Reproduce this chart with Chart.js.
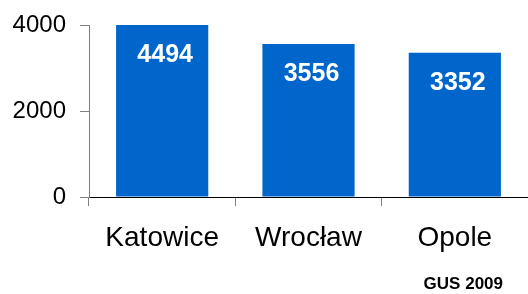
<!DOCTYPE html>
<html>
<head>
<meta charset="utf-8">
<script src="https://cdn.jsdelivr.net/npm/chart.js@4/dist/chart.umd.min.js"></script>
<style>
html,body{margin:0;padding:0;background:#fff;}
#wrap{width:528px;height:294px;position:relative;}
</style>
</head>
<body>
<div id="wrap"><canvas id="c" width="528" height="294"></canvas></div>
<script>
const categories = ["Katowice", "Wrocław", "Opole"];
const values = [4494, 3556, 3352];
const yTicks = [0, 2000, 4000];
const sourceNote = "GUS 2009";

const FONT = "'Liberation Sans', Arial, Helvetica, sans-serif";

const labelPlugin = {
  id: 'barLabels',
  afterDatasetsDraw(chart) {
    const ctx = chart.ctx;
    const meta = chart.getDatasetMeta(0);
    const area = chart.chartArea;
    ctx.save();
    ctx.fillStyle = '#ffffff';
    ctx.font = 'bold 25px ' + FONT;
    ctx.textAlign = 'center';
    ctx.textBaseline = 'middle';
    meta.data.forEach((el, i) => {
      const top = Math.max(el.y, area.top);
      ctx.fillText(String(values[i]), el.x + 3, top + 30);
    });
    ctx.restore();
  },
  afterDraw(chart) {
    const ctx = chart.ctx;
    ctx.save();
    ctx.fillStyle = '#000000';
    ctx.font = 'bold 17px ' + FONT;
    ctx.textAlign = 'right';
    ctx.textBaseline = 'alphabetic';
    ctx.fillText(sourceNote, 503, 289);
    ctx.restore();
  }
};

new Chart(document.getElementById('c'), {
  type: 'bar',
  data: {
    labels: categories,
    datasets: [{
      data: values,
      backgroundColor: '#0066CC',
      borderWidth: 0,
      barPercentage: 0.63,
      categoryPercentage: 1.0
    }]
  },
  options: {
    responsive: false,
    animation: false,
    events: [],
    layout: { padding: { top: 25, right: 0, left: 0, bottom: 0 } },
    plugins: { legend: { display: false }, tooltip: { enabled: false }, title: { display: false } },
    scales: {
      x: {
        offset: true,
        grid: { display: true, drawOnChartArea: false, drawTicks: true, tickLength: 9, color: '#808080', offset: true },
        border: { display: true, color: '#000000', width: 1 },
        ticks: { color: '#000000', font: { family: FONT, size: 28 }, padding: 15, maxRotation: 0 },
        afterFit(scale) { scale.height = 97; scale.paddingLeft = 0; scale.paddingRight = 0; }
      },
      y: {
        min: 0,
        max: 4000,
        afterBuildTicks(scale) { scale.ticks = yTicks.map(v => ({ value: v })); },
        grid: { display: true, drawOnChartArea: false, drawTicks: true, tickLength: 9, color: '#808080' },
        border: { display: true, color: '#808080', width: 1 },
        ticks: { color: '#000000', font: { family: FONT, size: 24 }, padding: 14, callback: (v) => String(v) },
        afterFit(scale) { scale.width = 89; scale.paddingTop = 0; scale.paddingBottom = 0; }
      }
    }
  },
  plugins: [labelPlugin]
});
</script>
</body>
</html>
